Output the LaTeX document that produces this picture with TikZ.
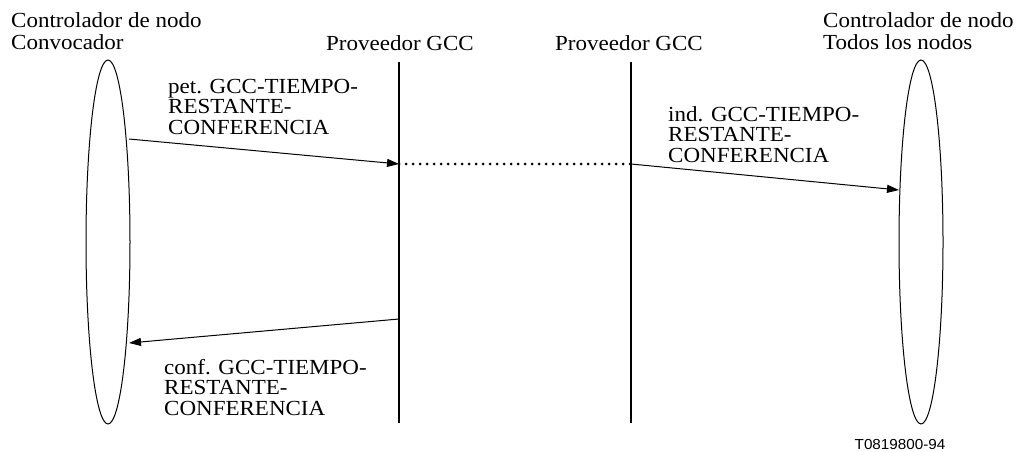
\documentclass[tikz,border=0pt]{standalone}
\usepackage{fontspec}
\setmainfont[FakeStretch=1.07]{Liberation Serif}
\newfontfamily\tagfont[FakeStretch=1.05]{Liberation Sans}
\usetikzlibrary{shapes.geometric,arrows.meta}
\tikzset{
  lbl/.style={anchor=base west,inner sep=0pt,align=left,font=\fontsize{21.5}{20.5}\selectfont},
  toplbl/.style={anchor=base west,inner sep=0pt,align=left,font=\fontsize{21.5}{22}\selectfont},
  ent/.style={draw,ellipse,line width=1pt,inner sep=0pt,minimum width=44pt,minimum height=364pt},
  life/.style={line width=2pt},
  msg/.style={line width=1pt,-{Triangle[length=12pt,width=8pt]}},
  dots/.style={line width=3pt,line cap=round,dash pattern=on 0pt off 7pt}
}
\begin{document}
\begin{tikzpicture}[x=1pt,y=-1pt]
\useasboundingbox (0,0) rectangle (1022,452);
% entities
\node[ent] (L) at (108,242) {};
\node[ent] (R) at (921,242) {};
% lifelines
\coordinate (A1) at (399,62);
\coordinate (A2) at (399,423);
\coordinate (B1) at (631,62);
\coordinate (B2) at (631,423);
\draw[life] (A1) -- (A2);
\draw[life] (B1) -- (B2);
% message end points
\coordinate (m1s) at (129,139);
\coordinate (m1e) at (399,164);
\coordinate (m2s) at (631,164);
\coordinate (m2e) at (899,190);
\coordinate (m3s) at (399,319);
\coordinate (m3e) at (129,343);
\draw[msg] (m1s) -- (m1e);
\draw[dots] (m1e) -- (m2s);
\draw[msg] (m2s) -- (m2e);
\draw[msg] (m3s) -- (m3e);
% headings (anchor = baseline of last line)
\node[toplbl] (hL) at (11,50) {Controlador de nodo\\Convocador};
\node[toplbl] (hR) at (823,50) {Controlador de nodo\\Todos los nodos};
\node[anchor=base,inner sep=0pt,font=\fontsize{21.5}{22}\selectfont] (hA) at (400,50.5) {Proveedor GCC};
\node[anchor=base,inner sep=0pt,font=\fontsize{21.5}{22}\selectfont] (hB) at (629,50.5) {Proveedor GCC};
% message labels
\node[lbl] (t1) at (168,134) {pet. GCC-TIEMPO-\\RESTANTE-\\CONFERENCIA};
\node[lbl] (t2) at (668,162) {ind. GCC-TIEMPO-\\RESTANTE-\\CONFERENCIA};
\node[lbl] (t3) at (164,415) {conf. GCC-TIEMPO-\\RESTANTE-\\CONFERENCIA};
% figure tag
\node[anchor=base,inner sep=0pt,font=\tagfont\fontsize{14.5}{16}\selectfont] (tag) at (900,449) {T0819800-94};
\end{tikzpicture}
\end{document}
